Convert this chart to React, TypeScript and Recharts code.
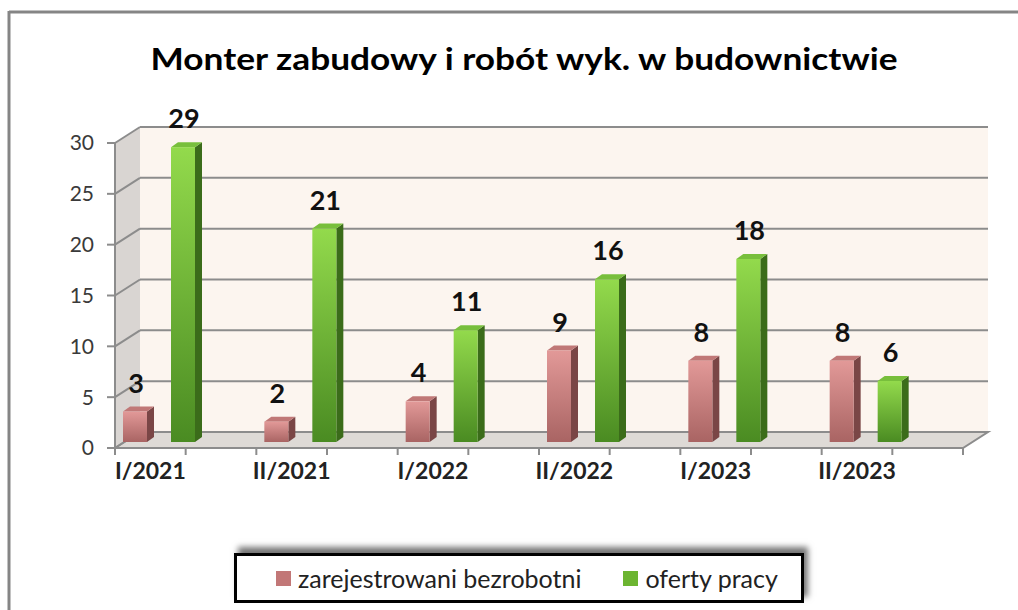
import React from 'react';
import { BarChart, Bar, XAxis, YAxis, CartesianGrid, LabelList } from 'recharts';

const categories = ['I/2021', 'II/2021', 'I/2022', 'II/2022', 'I/2023', 'II/2023'];
const registered = [3, 2, 4, 9, 8, 8];
const offers = [29, 21, 11, 16, 18, 6];
const yTicks = [0, 5, 10, 15, 20, 25, 30];
const seriesNames = ['zarejestrowani bezrobotni', 'oferty pracy'];
const title = 'Monter zabudowy i robót wyk. w budownictwie';

const data = categories.map((period, i) => ({
  period,
  registered: registered[i],
  offers: offers[i],
}));

// layout of the fake 3d box (front plane = recharts plot area)
const W = 1018;
const H = 610;
const PLOT = { left: 115, top: 143, right: 963, bottom: 448 };
const DEPTH = { dx: 25, dy: -16 };
const BAR_SHIFT = { dx: -27, dy: -6 };
const BAR_DEPTH = { dx: 7, dy: -5 };
const FONT = 'Lato, "Open Sans", sans-serif';
const GRID = '#8c8c8c';

const COLORS = {
  red: { top: '#e29998', bottom: '#a96463', side: '#7a4646', cap: '#c07877', swatch: '#c27777' },
  green: { top: '#93da4c', bottom: '#4a8b22', side: '#3b6c1a', cap: '#78bf3c', swatch: '#6cb531' },
};

const make3DBar = (key: 'red' | 'green') => (props: any) => {
  const { x, y, width, height } = props;
  if (!height || height <= 0) return <g />;
  const c = COLORS[key];
  const X = x + BAR_SHIFT.dx;
  const Y = y + BAR_SHIFT.dy;
  const { dx, dy } = BAR_DEPTH;
  return (
    <g>
      <polygon
        points={`${X + width},${Y} ${X + width + dx},${Y + dy} ${X + width + dx},${Y + height + dy} ${X + width},${Y + height}`}
        fill={c.side}
      />
      <polygon
        points={`${X},${Y} ${X + dx},${Y + dy} ${X + width + dx},${Y + dy} ${X + width},${Y}`}
        fill={c.cap}
      />
      <rect x={X} y={Y} width={width} height={height} fill={`url(#front-${key})`} />
    </g>
  );
};

const renderValue = (props: any) => {
  const { x, y, width, value } = props;
  return (
    <text
      x={x + BAR_SHIFT.dx + width / 2 + 1}
      y={y + BAR_SHIFT.dy - 19}
      textAnchor="middle"
      fontSize={27}
      fontWeight="bold"
      fontFamily={FONT}
      fill="#111"
    >
      {value}
    </text>
  );
};

const gridLine = (props: any) => {
  const { x1, x2, y1, index } = props;
  return (
    <g key={`grid-${index}`}>
      <line x1={x1} y1={y1} x2={x1 + DEPTH.dx} y2={y1 + DEPTH.dy} stroke={GRID} strokeWidth={2} />
      <line x1={x1 + DEPTH.dx} y1={y1 + DEPTH.dy} x2={x2 + DEPTH.dx} y2={y1 + DEPTH.dy} stroke={GRID} strokeWidth={2} />
    </g>
  );
};

const XTick = (props: any) => {
  const { x, y, payload, index } = props;
  const half = (PLOT.right - PLOT.left) / categories.length / 2;
  return (
    <g>
      <line x1={x - half} y1={y} x2={x - half} y2={y + 7} stroke={GRID} strokeWidth={2} />
      <line x1={x} y1={y} x2={x} y2={y + 7} stroke={GRID} strokeWidth={2} />
      {index === categories.length - 1 && (
        <line x1={x + half} y1={y} x2={x + half} y2={y + 7} stroke={GRID} strokeWidth={2} />
      )}
      <text x={x - half / 2} y={y + 31} textAnchor="middle" fontSize={23} fontWeight="bold" fontFamily={FONT} fill="#222">
        {payload.value}
      </text>
    </g>
  );
};

const Backdrop = () => {
  const { left, top, right, bottom } = PLOT;
  const { dx, dy } = DEPTH;
  return (
    <svg width={W} height={H} style={{ position: 'absolute', left: 0, top: 0 }}>
      <line x1={9} y1={12} x2={W} y2={12} stroke="#858585" strokeWidth={3} />
      <line x1={9} y1={11} x2={9} y2={H} stroke="#858585" strokeWidth={3} />
      <rect x={left + dx} y={top + dy} width={right - left} height={bottom - top} fill="#fcf5ef" />
      <polygon
        points={`${left},${bottom} ${left + dx},${bottom + dy} ${left + dx},${top + dy} ${left},${top}`}
        fill="#d9d5d2"
      />
      <polygon
        points={`${left},${bottom} ${right},${bottom} ${right + dx},${bottom + dy} ${left + dx},${bottom + dy}`}
        fill="#dedad6"
        stroke={GRID}
        strokeWidth={2}
      />
      <text
        x={524}
        y={70}
        textAnchor="middle"
        fontSize={31}
        fontWeight="bold"
        fontFamily={FONT}
        fill="#000"
        textLength={747}
        lengthAdjust="spacingAndGlyphs"
      >
        {title}
      </text>
    </svg>
  );
};

const LegendBox = () => (
  <div
    style={{
      position: 'absolute',
      left: 234,
      top: 553,
      width: 564,
      height: 44,
      border: '3px solid #000',
      background: '#fff',
      boxShadow: '4px -6px 6px rgba(0,0,0,0.55)',
      display: 'flex',
      alignItems: 'center',
      fontFamily: FONT,
      fontSize: 25,
      color: '#222',
      whiteSpace: 'nowrap',
    }}
  >
    <span style={{ width: 15, height: 15, background: COLORS.red.swatch, marginLeft: 39, marginRight: 7 }} />
    <span>{seriesNames[0]}</span>
    <span style={{ width: 15, height: 15, background: COLORS.green.swatch, marginLeft: 42, marginRight: 7 }} />
    <span>{seriesNames[1]}</span>
  </div>
);

export default function App() {
  return (
    <div style={{ position: 'absolute', left: 0, top: 0, width: W, height: H, background: '#fff', overflow: 'hidden' }}>
      <Backdrop />
      <div style={{ position: 'absolute', left: 0, top: 0 }}>
        <BarChart
          width={W}
          height={H}
          data={data}
          margin={{ top: PLOT.top, right: W - PLOT.right, left: PLOT.left - 60, bottom: H - PLOT.bottom - 40 }}
          barSize={24}
          barGap={24}
        >
          <defs>
            <linearGradient id="front-red" x1="0" y1="0" x2="0" y2="1">
              <stop offset="0%" stopColor={COLORS.red.top} />
              <stop offset="100%" stopColor={COLORS.red.bottom} />
            </linearGradient>
            <linearGradient id="front-green" x1="0" y1="0" x2="0" y2="1">
              <stop offset="0%" stopColor={COLORS.green.top} />
              <stop offset="100%" stopColor={COLORS.green.bottom} />
            </linearGradient>
          </defs>
          <CartesianGrid horizontal={gridLine} vertical={false} />
          <XAxis
            dataKey="period"
            height={40}
            tickSize={0}
            tickMargin={0}
            tickLine={false}
            axisLine={{ stroke: GRID, strokeWidth: 2 }}
            tick={<XTick />}
            interval={0}
          />
          <YAxis
            width={60}
            domain={[0, 30]}
            ticks={yTicks}
            interval={0}
            tickSize={8}
            tickMargin={13}
            axisLine={{ stroke: GRID, strokeWidth: 2 }}
            tickLine={{ stroke: GRID, strokeWidth: 2 }}
            tick={{ fontSize: 21, fill: '#3a3a3a', fontFamily: FONT }}
          />
          <Bar dataKey="registered" name={seriesNames[0]} shape={make3DBar('red')} isAnimationActive={false}>
            <LabelList dataKey="registered" content={renderValue} />
          </Bar>
          <Bar dataKey="offers" name={seriesNames[1]} shape={make3DBar('green')} isAnimationActive={false}>
            <LabelList dataKey="offers" content={renderValue} />
          </Bar>
        </BarChart>
      </div>
      <LegendBox />
    </div>
  );
}
